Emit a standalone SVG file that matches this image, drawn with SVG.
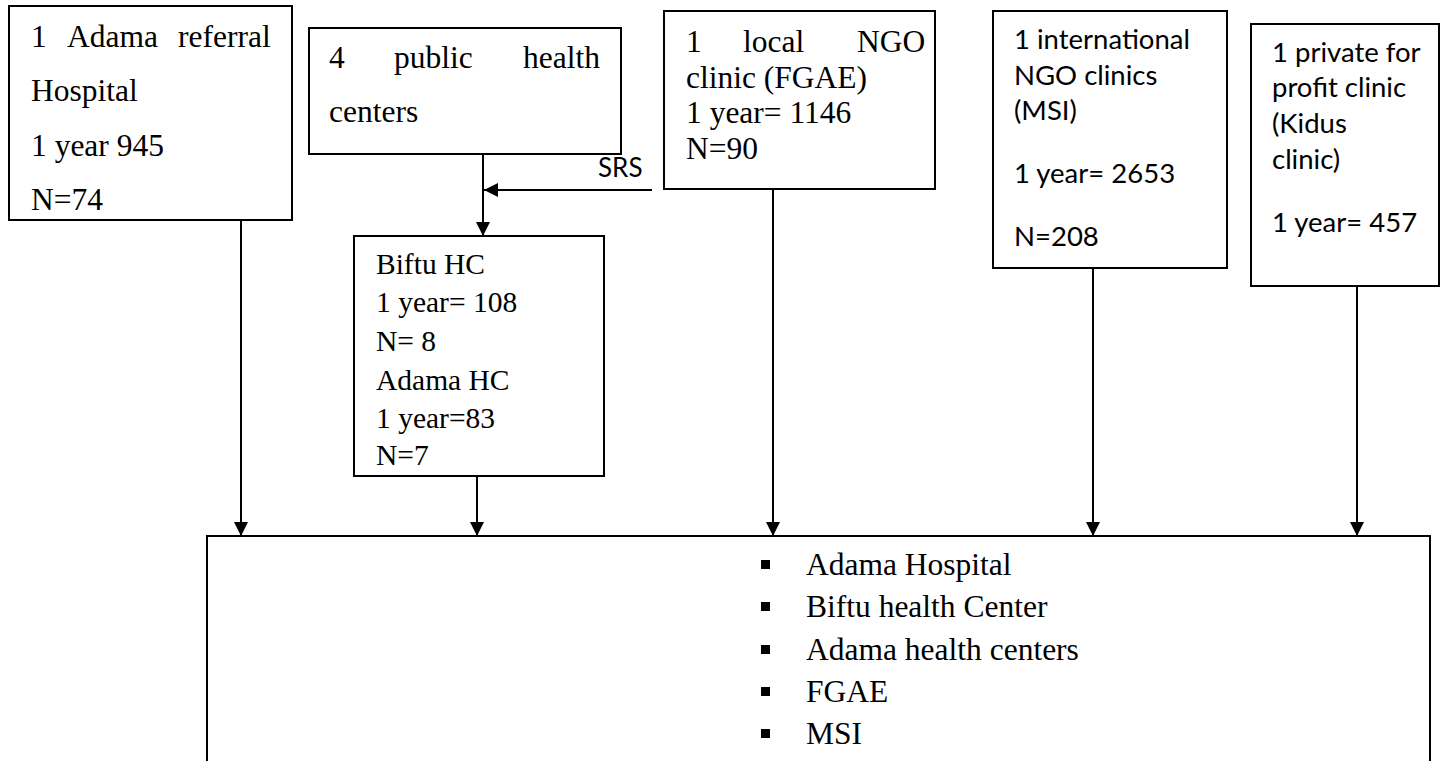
<svg xmlns="http://www.w3.org/2000/svg" width="1444" height="761" viewBox="0 0 1444 761">
<style>
.box{fill:#fff;stroke:#000;stroke-width:2}
.t{font-family:"Liberation Serif","Times New Roman",serif;font-size:31.5px;fill:#000}
.c{font-family:Lato,"Liberation Sans",sans-serif;font-size:27.5px;fill:#000}
.ln{stroke:#000;stroke-width:2;fill:none}
</style>
<defs>
<marker id="ah" markerUnits="userSpaceOnUse" markerWidth="14" markerHeight="14" refX="14" refY="7" orient="auto">
<path d="M0,0 L14,7 L0,14 Z" fill="#000"/>
</marker>
</defs>
<rect width="1444" height="761" fill="#fff"/>
<g id="connectors">
<line class="ln" x1="241" y1="220" x2="241" y2="536" marker-end="url(#ah)"/>
<line class="ln" x1="483" y1="154" x2="483" y2="236" marker-end="url(#ah)"/>
<line class="ln" x1="652" y1="190" x2="484" y2="190" marker-end="url(#ah)"/>
<text class="c" x="598" y="177" style="font-size:26px">SRS</text>
<line class="ln" x1="477" y1="476" x2="477" y2="536" marker-end="url(#ah)"/>
<line class="ln" x1="773" y1="189" x2="773" y2="536" marker-end="url(#ah)"/>
<line class="ln" x1="1093" y1="268" x2="1093" y2="536" marker-end="url(#ah)"/>
<line class="ln" x1="1357" y1="286" x2="1357" y2="536" marker-end="url(#ah)"/>
</g>
<g id="hospital">
<rect class="box" x="9" y="6" width="283" height="214"/>
<text class="t"><tspan x="31" y="47">1</tspan><tspan x="67" y="47">Adama</tspan><tspan x="178" y="47">referral</tspan></text>
<text class="t" x="31" y="101">Hospital</text>
<text class="t" x="31" y="156">1 year 945</text>
<text class="t" x="31" y="210">N=74</text>
</g>
<g id="public">
<rect class="box" x="309" y="28" width="312" height="126"/>
<text class="t"><tspan x="329" y="68">4</tspan><tspan x="394" y="68">public</tspan><tspan x="523" y="68">health</tspan></text>
<text class="t" x="329" y="122">centers</text>
</g>
<g id="biftu">
<rect class="box" x="354" y="236" width="250" height="240"/>
<g class="t" style="font-size:29.5px">
<text x="376" y="274">Biftu HC</text>
<text x="376" y="312">1 year= 108</text>
<text x="376" y="351">N= 8</text>
<text x="376" y="390">Adama HC</text>
<text x="376" y="428">1 year=83</text>
<text x="376" y="465">N=7</text>
</g>
</g>
<g id="fgae">
<rect class="box" x="664" y="11" width="271" height="178"/>
<text class="t"><tspan x="686" y="52">1</tspan><tspan x="743" y="52">local</tspan><tspan x="857" y="52">NGO</tspan></text>
<text class="t" x="686" y="88">clinic (FGAE)</text>
<text class="t" x="686" y="123">1 year= 1146</text>
<text class="t" x="686" y="159">N=90</text>
</g>
<g id="msi">
<rect class="box" x="993" y="11" width="234" height="257"/>
<text class="c" x="1014" y="49">1 international</text>
<text class="c" x="1014" y="85">NGO clinics</text>
<text class="c" x="1014" y="120">(MSI)</text>
<text class="c" x="1014" y="183">1 year= 2653</text>
<text class="c" x="1014" y="246">N=208</text>
</g>
<g id="kidus">
<rect class="box" x="1251" y="24" width="188" height="262"/>
<text class="c" x="1272" y="62">1 private for</text>
<text class="c" x="1272" y="97">profit clinic</text>
<text class="c" x="1272" y="133">(Kidus</text>
<text class="c" x="1272" y="169">clinic)</text>
<text class="c" x="1272" y="232">1 year= 457</text>
</g>
<g id="sites">
<path class="ln" d="M207,770 L207,536 L1430,536 L1430,770"/>
<g fill="#000">
<rect x="761" y="560" width="9" height="9"/>
<rect x="761" y="602" width="9" height="9"/>
<rect x="761" y="645" width="9" height="9"/>
<rect x="761" y="687" width="9" height="9"/>
<rect x="761" y="729" width="9" height="9"/>
</g>
<text class="t" x="806" y="575">Adama Hospital</text>
<text class="t" x="806" y="617">Biftu health Center</text>
<text class="t" x="806" y="660">Adama health centers</text>
<text class="t" x="806" y="702">FGAE</text>
<text class="t" x="806" y="744">MSI</text>
</g>
</svg>
